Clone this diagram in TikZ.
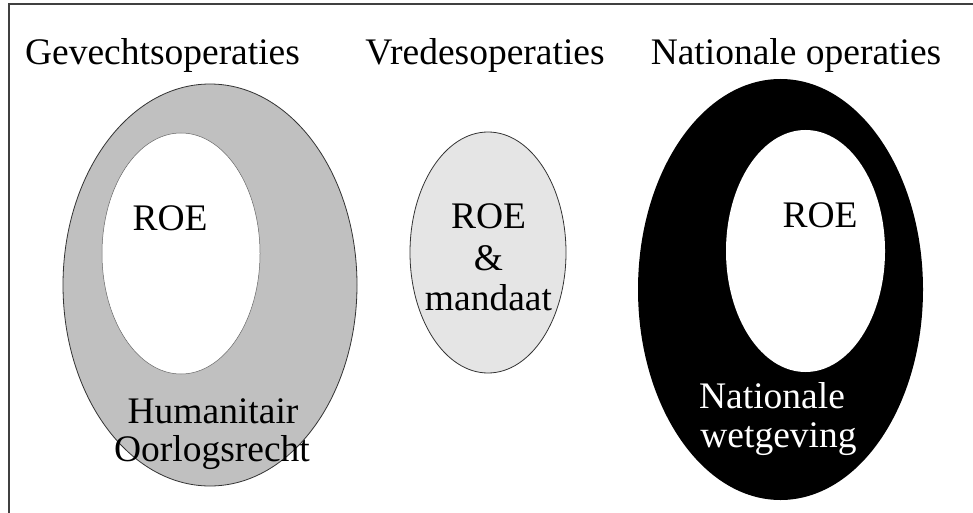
\documentclass[tikz,border=0pt]{standalone}
\usepackage{fontspec}
\setmainfont{Liberation Serif}
\usetikzlibrary{shapes.geometric}
\definecolor{stipple}{RGB}{192,192,192}
\definecolor{lightstipple}{RGB}{229,229,229}
\begin{document}
\begin{tikzpicture}[x=1pt,y=-1pt,
  lbl/.style={font=\fontsize{37.5}{40}\selectfont, inner sep=0pt, anchor=base},
  ring/.style={ellipse, inner sep=0pt, outer sep=0pt, draw=black!80, line width=0.8pt},
  hole/.style={ellipse, inner sep=0pt, outer sep=0pt, fill=white},
]
\useasboundingbox (0,0) rectangle (973,513);
% frame: top and left edges only
\coordinate (frameTR) at (973,4);
\coordinate (frameTL) at (9,4);
\coordinate (frameBL) at (9,513);
\draw[line width=1.5pt, black!75] (frameTR) -- (frameTL) -- (frameBL);

% column titles
\node[lbl] (tCombat)   at (162.5,65) {Gevechtsoperaties};
\node[lbl] (tPeace)    at (485,65)   {Vredesoperaties};
\node[lbl] (tNational) at (796,65)   {Nationale operaties};

% combat operations: grey ring around ROE
\node[ring, fill=stipple, minimum width=294pt, minimum height=402pt] (combatOuter) at (210,285) {};
\node[hole, draw=black!60, line width=0.5pt, minimum width=158pt, minimum height=241pt] (combatInner) at (181,253.5) {};
\node[lbl] (combatROE) at (170,230) {ROE};
\node[lbl] (combatLaw1) at (213,423) {Humanitair};
\node[lbl] (combatLaw2) at (212,461) {Oorlogsrecht};

% peace operations: single light ellipse
\node[ring, fill=lightstipple, minimum width=156pt, minimum height=241pt] (peace) at (488,252.5) {};
\node[lbl] (peaceROE) at (488.5,228) {ROE};
\node[lbl] (peaceAnd) at (488.5,270) {\&};
\node[lbl] (peaceMandate) at (488.5,310) {mandaat};

% national operations: black ring around ROE
\node[ellipse, inner sep=0pt, fill=black, minimum width=285pt, minimum height=421pt] (nationalOuter) at (780.5,289.5) {};
\node[hole, minimum width=159pt, minimum height=242pt] (nationalInner) at (805.5,251) {};
\node[lbl] (nationalROE) at (820,227) {ROE};
\node[lbl, text=white] (nationalLaw1) at (772,408) {Nationale};
\node[lbl, text=white] (nationalLaw2) at (778.5,447) {wetgeving};
\end{tikzpicture}
\end{document}
